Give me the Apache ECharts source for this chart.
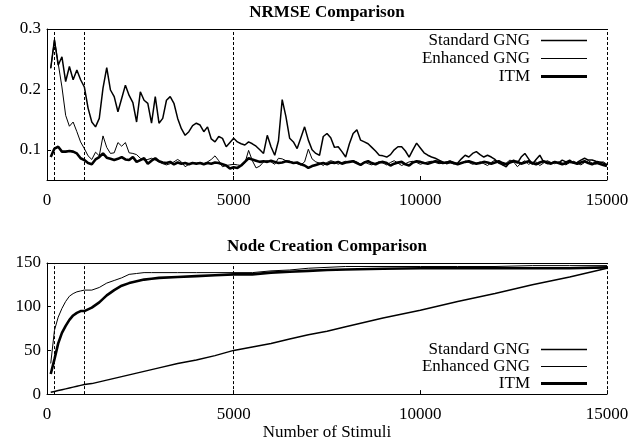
<!DOCTYPE html>
<html>
<head>
<meta charset="utf-8">
<script src="https://cdn.jsdelivr.net/npm/echarts@6/dist/echarts.min.js"></script>
<style>
html,body{margin:0;padding:0;background:#fff}
#main{width:644px;height:442px}
</style>
</head>
<body>
<div id="main"></div>
<script>
// sample grid of the NRMSE plot (every 100 stimuli)
let stimuli = Array.from({length: 150}, (_, i) => (i + 1) * 100);

let nrmseStandard = [
  .235,.282,.240,.254,.213,.238,.216,.232,.216,.204,
  .169,.146,.138,.152,.202,.236,.199,.188,.163,.185,
  .207,.190,.178,.146,.196,.182,.177,.144,.188,.144,
  .152,.182,.188,.177,.152,.135,.124,.130,.140,.144,
  .141,.130,.138,.118,.113,.122,.119,.105,.112,.119,
  .113,.110,.108,.113,.110,.106,.100,.094,.124,.105,
  .091,.115,.183,.155,.119,.113,.102,.120,.138,.116,
  .100,.094,.091,.122,.127,.120,.104,.105,.097,.088,
  .110,.127,.133,.116,.113,.110,.104,.098,.091,.090,
  .088,.092,.100,.105,.105,.098,.088,.100,.111,.103,
  .095,.091,.088,.086,.083,.080,.077,.079,.077,.078,
  .085,.091,.088,.094,.097,.092,.088,.091,.088,.084,
  .078,.075,.072,.080,.083,.078,.088,.094,.085,.076,
  .084,.091,.080,.077,.078,.080,.078,.083,.080,.083,
  .078,.079,.083,.086,.083,.083,.081,.080,.078,.075
];
let nrmseEnhanced = [
  .235,.282,.243,.204,.157,.139,.146,.130,.113,.102,
  .090,.084,.096,.090,.123,.104,.094,.095,.112,.106,
  .112,.095,.094,.092,.086,.083,.084,.086,.083,.080,
  .077,.075,.077,.080,.084,.080,.072,.076,.079,.078,
  .079,.077,.080,.084,.090,.082,.072,.074,.075,.076,
  .075,.074,.078,.099,.082,.070,.073,.080,.082,.080,
  .076,.086,.085,.082,.081,.079,.077,.075,.080,.101,
  .085,.080,.078,.074,.079,.082,.080,.076,.079,.081,
  .080,.082,.080,.076,.080,.077,.075,.078,.080,.078,
  .075,.079,.082,.078,.074,.077,.080,.081,.079,.076,
  .078,.080,.081,.079,.077,.078,.080,.082,.079,.076,
  .078,.081,.079,.076,.078,.080,.077,.074,.079,.083,
  .080,.075,.078,.083,.080,.072,.078,.082,.076,.079,
  .080,.074,.078,.082,.079,.077,.080,.078,.075,.079,
  .081,.078,.075,.079,.082,.078,.076,.079,.080,.076
];
let nrmseItm = [
  .088,.102,.105,.097,.097,.098,.097,.094,.086,.083,
  .078,.076,.084,.088,.094,.087,.085,.083,.085,.088,
  .084,.083,.088,.080,.083,.086,.077,.082,.086,.081,
  .079,.078,.080,.076,.079,.077,.078,.076,.078,.077,
  .078,.076,.078,.077,.079,.078,.076,.074,.069,.071,
  .070,.074,.080,.086,.084,.082,.080,.081,.080,.082,
  .080,.078,.079,.081,.080,.078,.079,.076,.074,.070,
  .073,.075,.077,.078,.076,.079,.078,.080,.077,.079,
  .080,.081,.078,.075,.079,.081,.078,.076,.079,.080,
  .078,.074,.077,.079,.080,.076,.074,.079,.081,.080,
  .078,.077,.079,.081,.080,.078,.079,.080,.078,.076,
  .078,.080,.081,.079,.077,.078,.080,.079,.077,.079,
  .081,.078,.076,.079,.081,.080,.077,.079,.081,.078,
  .076,.079,.081,.079,.077,.080,.078,.076,.078,.080,
  .079,.077,.079,.081,.078,.076,.079,.077,.075,.073
];

// node creation plot
let nodeStimuli = [100,200,300,400,500,600,700,800,900,1000,1200,1400,1600,1800,2000,2200,2400,2600,2800,3000,
  3500,4000,4500,5000,5500,6000,6500,7000,7500,8000,9000,10000,11000,12000,13000,14000,15000];
let nodesStandard = [2,3,4,5,6,7,8,9,10,11,12,14,16,18,20,22,24,26,28,30,
  35,39,44,50,54,58,63,68,72,77,87,96,106,115,125,134,144];
let nodesEnhanced = [35,73,88,98,106,112,115,117,118,119,119,122,127,130,133,137,138,139,139,139,
  139,139,139,139,139,141,142,144,145,146,146,146,146,146,147,147,147];
let nodesItm = [23,40,58,70,78,85,90,93,95,95,99,105,113,119,124,127,129,131,132,133,
  134,135,136,137,137,139,140,141,142,142.5,143.5,144,144,144,144,144,145];

let seriesNames = ['Standard GNG', 'Enhanced GNG', 'ITM'];
let lineWidths = [1.5, 1, 2.6];
let legendHeights = [1.5, 1, 3];
let markers = [200, 1000, 5000, 15000];
let nrmseTicks = [0.1, 0.2, 0.3];
let nodeTicks = [0, 50, 100, 150];

const FONT = 'Liberation Serif';

let plot = {
  pairs: (xs, ys) => xs.map((x, i) => [x, ys[i]]),
  markLine: () => ({
    silent: true,
    symbol: 'none',
    label: {show: false},
    lineStyle: {color: '#000', type: [3, 2], width: 1},
    data: markers.map(m => ({xAxis: m}))
  }),
  xAxes: (grid, withName) => [{
    type: 'value', gridIndex: grid, min: 0, max: 15000, interval: 5000,
    name: withName ? 'Number of Stimuli' : '',
    nameLocation: 'middle', nameGap: 26,
    nameTextStyle: {fontFamily: FONT, fontSize: 17, color: '#000'},
    axisLine: {show: true, lineStyle: {color: '#000', width: 1}},
    axisTick: {show: true, inside: true, length: 4, lineStyle: {color: '#000'}},
    axisLabel: {fontFamily: FONT, fontSize: 17, color: '#000', margin: 12, formatter: v => String(v)},
    splitLine: {show: false}
  }, {
    type: 'value', gridIndex: grid, position: 'top', min: 0, max: 15000,
    axisLine: {show: true, lineStyle: {color: '#000', width: 1}},
    axisTick: {show: false}, axisLabel: {show: false}, splitLine: {show: false}
  }],
  legendRow: (name, top, h) => ({
    right: 57, top: top, padding: 0,
    orient: 'horizontal', align: 'right',
    icon: 'rect', itemWidth: 46, itemHeight: h,
    data: [name],
    formatter: n => '{t|' + n + '}',
    textStyle: {rich: {t: {fontFamily: FONT, fontSize: 17, color: '#000', padding: [0, 6, 0, 0]}}}
  }),
  init: () => {
    let myChart = echarts.init(document.getElementById('main'), null, {renderer: 'canvas'});
    let series = [];
    [nrmseStandard, nrmseEnhanced, nrmseItm].forEach((vals, i) => {
      series.push({
        name: seriesNames[i], type: 'line', xAxisIndex: 0, yAxisIndex: 0,
        data: plot.pairs(stimuli, vals), symbol: 'none', color: '#000',
        lineStyle: {color: '#000', width: lineWidths[i]},
        markLine: i === 0 ? plot.markLine() : undefined
      });
    });
    [nodesStandard, nodesEnhanced, nodesItm].forEach((vals, i) => {
      series.push({
        name: seriesNames[i], type: 'line', xAxisIndex: 2, yAxisIndex: 1,
        data: plot.pairs(nodeStimuli, vals), symbol: 'none', color: '#000',
        lineStyle: {color: '#000', width: lineWidths[i]},
        markLine: i === 0 ? plot.markLine() : undefined
      });
    });

    let legends = [];
    seriesNames.forEach((n, i) => {
      legends.push(plot.legendRow(n, [32, 50, 68][i], legendHeights[i]));
      legends.push(plot.legendRow(n, [341, 358, 375][i], legendHeights[i]));
    });

    let option = {
      animation: false,
      backgroundColor: '#fff',
      title: [
        {text: 'NRMSE Comparison', left: 327, top: 4, padding: 0, textAlign: 'center',
          textStyle: {fontFamily: FONT, fontSize: 17, fontWeight: 'bold', color: '#000'}},
        {text: 'Node Creation Comparison', left: 327, top: 238, padding: 0, textAlign: 'center',
          textStyle: {fontFamily: FONT, fontSize: 17, fontWeight: 'bold', color: '#000'}}
      ],
      legend: legends,
      grid: [
        {left: 47, right: 37, top: 29, height: 151},
        {left: 47, right: 37, top: 263, height: 134}
      ],
      xAxis: plot.xAxes(0, false).concat(plot.xAxes(1, true)),
      yAxis: [{
        type: 'value', gridIndex: 0, min: 0.05, max: 0.3, interval: 0.05,
        axisLine: {show: true, lineStyle: {color: '#000', width: 1}},
        axisTick: {show: true, inside: true, length: 4, customValues: nrmseTicks, lineStyle: {color: '#000'}},
        axisLabel: {fontFamily: FONT, fontSize: 17, color: '#000', margin: 6,
          customValues: nrmseTicks, formatter: v => v.toFixed(1)},
        splitLine: {show: false}
      }, {
        type: 'value', gridIndex: 1, min: 0, max: 150, interval: 50,
        axisLine: {show: true, lineStyle: {color: '#000', width: 1}},
        axisTick: {show: true, inside: true, length: 4, customValues: nodeTicks, lineStyle: {color: '#000'}},
        axisLabel: {fontFamily: FONT, fontSize: 17, color: '#000', margin: 6, customValues: nodeTicks},
        splitLine: {show: false}
      }],
      series: series
    };
    myChart.setOption(option);
  }//init-----end
};

plot.init();
</script>
</body>
</html>
